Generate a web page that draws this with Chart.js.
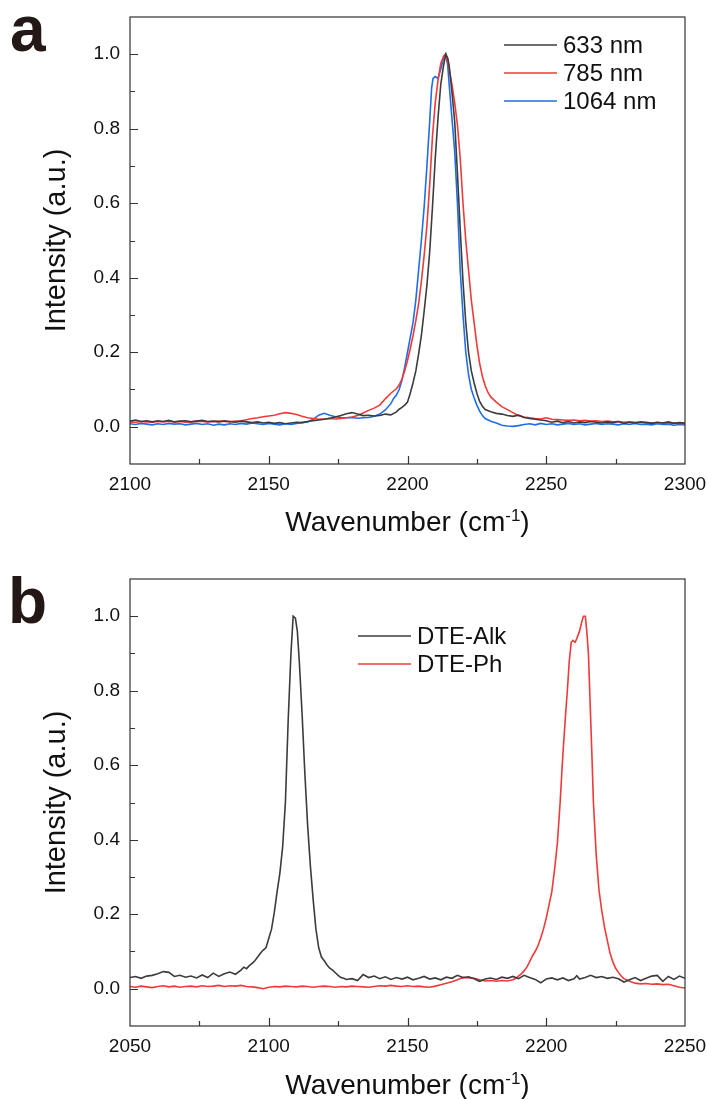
<!DOCTYPE html>
<html>
<head>
<meta charset="utf-8">
<script src="https://cdn.jsdelivr.net/npm/chart.js@4.4.1/dist/chart.umd.min.js"></script>
<style>
  body { margin: 0; background: #fff; width: 707px; height: 1099px; position: relative; overflow: hidden; }
  .panel { position: absolute; left: 0; }
  .letter { position: absolute; font: bold 64px "Liberation Sans", Arial, sans-serif; line-height: 64px; color: #231815; }
  .xtitle { position: absolute; left: 130px; width: 555px; text-align: center; font: 28px "Liberation Sans", Arial, sans-serif; line-height: 28px; color: #111; }
  .xtitle span { font-size: 17px; position: relative; top: -10px; }
</style>
</head>
<body>
<div class="panel" style="top:0"><canvas id="chartA" width="707" height="545"></canvas></div>
<div class="panel" style="top:562px"><canvas id="chartB" width="707" height="537"></canvas></div>
<div class="letter" style="left:10px; top:-3px">a</div>
<div class="letter" style="left:8px; top:569px">b</div>
<div class="xtitle" style="top:508px">Wavenumber (cm<span>-1</span>)</div>
<div class="xtitle" style="top:1071px">Wavenumber (cm<span>-1</span>)</div>
<script>
// ---- panel a: excitation wavelength ----
const labelsA = ["633 nm", "785 nm", "1064 nm"];

const a633x = [2100,2102,2104,2106,2108,2110,2112,2114,2116,2118,2120,2122,2124,2126,2128,2130,2132,2134,2136,2138,
  2140,2142,2144,2146,2148,2150,2152,2154,2156,2158,2160,2162,2164,2166,2168,2170,2172,2174,2176,2178,
  2180,2182,2184,2186,2188,2190,2192,2194,2196,2197,2198,2199,2200,2201,2202,2203,2204,2205,2206,2207,
  2208,2209,2210,2211,2212,2213,2213.8,2214.5,2215,2216,2217,2218,2219,2220,2221,2222,2223,2224,2225,2226,
  2227,2228,2230,2232,2234,2236,2238,2240,2242,2244,2246,2248,2250,2252,2254,2256,2258,2260,2262,2264,
  2266,2268,2270,2272,2274,2276,2278,2280,2282,2284,2286,2288,2290,2292,2294,2296,2298,2300];
const a633y = [.015,.018,.014,.016,.013,.016,.014,.017,.013,.015,.016,.013,.015,.017,.014,.015,.013,.016,.014,.012,
  .015,.013,.011,.013,.010,.012,.009,.011,.008,.010,.012,.011,.014,.016,.018,.020,.023,.026,.030,.035,
  .038,.034,.030,.031,.029,.030,.034,.032,.040,.047,.052,.058,.066,.090,.118,.150,.195,.245,.31,.38,
  .47,.59,.72,.83,.92,.97,1.0,.99,.97,.90,.82,.68,.53,.39,.28,.20,.15,.118,.09,.068,
  .055,.046,.040,.036,.034,.030,.028,.031,.025,.022,.020,.018,.016,.012,.015,.011,.014,.010,.013,.011,
  .014,.012,.010,.013,.011,.014,.009,.012,.010,.013,.011,.009,.012,.010,.013,.009,.011,.010];

const a785x = [2100,2102,2104,2106,2108,2110,2112,2114,2116,2118,2120,2122,2124,2126,2128,2130,2132,2134,2136,2138,
  2140,2142,2144,2146,2148,2150,2152,2154,2156,2158,2160,2162,2164,2166,2168,2170,2172,2174,2176,2178,
  2180,2182,2184,2186,2188,2190,2192,2194,2196,2197,2198,2199,2200,2201,2202,2203,2204,2205,2206,2207,
  2208,2209,2210,2211,2212,2213,2213.6,2214.5,2215,2216,2217,2218,2219,2220,2221,2222,2223,2224,2225,2226,
  2227,2228,2229,2230,2232,2234,2236,2238,2240,2242,2244,2246,2248,2250,2252,2254,2256,2258,2260,2262,
  2264,2266,2268,2270,2272,2274,2276,2278,2280,2282,2284,2286,2288,2290,2292,2294,2296,2298,2300];
const a785y = [.013,.012,.014,.013,.012,.014,.013,.015,.013,.014,.012,.013,.015,.014,.013,.014,.015,.014,.013,.015,
  .016,.019,.022,.024,.027,.029,.031,.035,.038,.036,.033,.028,.024,.022,.020,.021,.022,.021,.022,.024,
  .026,.030,.037,.044,.050,.058,.075,.090,.102,.112,.128,.150,.178,.21,.245,.285,.33,.39,.46,.54,
  .65,.78,.87,.93,.975,.995,1.0,.98,.96,.92,.87,.81,.72,.60,.50,.42,.34,.28,.22,.17,
  .135,.11,.092,.080,.066,.054,.046,.038,.030,.026,.024,.022,.021,.024,.020,.019,.018,.017,.018,.016,
  .017,.015,.016,.014,.015,.013,.014,.012,.013,.012,.011,.012,.010,.011,.010,.009,.010,.009,.008];

const a1064x = [2100,2102,2104,2106,2108,2110,2112,2114,2116,2118,2120,2122,2124,2126,2128,2130,2132,2134,2136,2138,
  2140,2142,2144,2146,2148,2150,2152,2154,2156,2158,2160,2162,2164,2166,2168,2170,2172,2174,2176,2178,
  2180,2182,2184,2186,2188,2190,2192,2194,2195,2196,2197,2198,2199,2200,2201,2202,2203,2204,2205,2206,
  2207,2208,2208.7,2209.2,2210,2211,2212,2213,2213.8,2214.5,2215,2216,2217,2218,2219,2220,2221,2222,2223,2224,
  2225,2226,2227,2228,2230,2232,2234,2236,2238,2240,2242,2244,2246,2248,2250,2252,2254,2256,2258,2260,
  2262,2264,2266,2268,2270,2272,2274,2276,2278,2280,2282,2284,2286,2288,2290,2292,2294,2296,2298,2300];
const a1064y = [.008,.006,.009,.007,.005,.008,.006,.009,.007,.008,.005,.007,.009,.006,.008,.004,.007,.005,.008,.006,
  .009,.007,.010,.008,.006,.009,.007,.005,.008,.006,.009,.011,.013,.020,.031,.036,.031,.027,.025,.024,
  .025,.023,.024,.025,.028,.034,.045,.062,.076,.085,.10,.125,.16,.20,.24,.28,.34,.42,.50,.59,
  .70,.82,.91,.935,.94,.935,.96,.99,1.0,.97,.92,.83,.74,.60,.42,.30,.20,.14,.10,.078,
  .058,.042,.030,.022,.015,.010,.004,.002,.001,.003,.006,.008,.005,.009,.006,.008,.005,.007,.009,.006,
  .008,.005,.007,.009,.006,.008,.007,.005,.008,.006,.009,.006,.007,.005,.008,.006,.007,.004,.006,.005];

// ---- panel b: DTE-Alk vs DTE-Ph ----
const labelsB = ["DTE-Alk", "DTE-Ph"];

const bAlkx = [2050,2052,2054,2056,2058,2060,2062,2064,2066,2068,2070,2072,2074,2076,2078,2080,2082,2084,2086,2088,
  2090,2091,2092,2093,2094,2095,2096,2097,2098,2099,2100,2101,2102,2103,2104,2105,2106,2107,2108,2108.8,
  2109.6,2110.3,2111,2112,2113,2114,2115,2116,2117,2118,2119,2120,2121,2122,2123,2124,2125,2126,2127,2128,
  2130,2132,2134,2136,2138,2140,2142,2144,2146,2148,2150,2152,2154,2156,2158,2160,2162,2164,2166,2168,
  2170,2172,2174,2176,2178,2180,2182,2184,2186,2188,2190,2192,2194,2196,2198,2200,2202,2204,2206,2208,
  2210,2211,2212,2214,2216,2218,2220,2222,2224,2226,2228,2230,2232,2234,2236,2238,2240,2242,2244,2246,
  2248,2250];
const bAlky = [.030,.033,.028,.034,.036,.040,.046,.044,.033,.036,.031,.034,.029,.037,.030,.042,.033,.040,.045,.039,
  .050,.058,.054,.062,.068,.075,.085,.095,.104,.110,.135,.160,.205,.26,.31,.38,.50,.72,.90,1.0,
  .995,.96,.88,.74,.58,.44,.33,.24,.16,.11,.085,.075,.064,.055,.050,.043,.036,.030,.028,.025,
  .027,.022,.038,.030,.034,.027,.032,.025,.030,.026,.031,.024,.028,.033,.026,.029,.024,.031,.028,.036,
  .030,.032,.027,.020,.026,.029,.025,.031,.028,.033,.027,.036,.030,.025,.016,.026,.029,.024,.029,.022,
  .027,.035,.026,.030,.036,.030,.033,.028,.031,.027,.018,.024,.030,.022,.028,.034,.036,.020,.033,.025,
  .034,.028];

const bPhx = [2050,2052,2054,2056,2058,2060,2062,2064,2066,2068,2070,2072,2074,2076,2078,2080,2082,2084,2086,2088,
  2090,2092,2094,2096,2098,2100,2102,2104,2106,2108,2110,2112,2114,2116,2118,2120,2122,2124,2126,2128,
  2130,2132,2134,2136,2138,2140,2142,2144,2146,2148,2150,2152,2154,2156,2158,2160,2162,2164,2166,2168,
  2170,2172,2174,2176,2178,2180,2182,2184,2186,2188,2189,2190,2191,2192,2193,2194,2195,2196,2197,2198,
  2199,2200,2201,2202,2203,2204,2205,2206,2207,2207.6,2208.3,2209,2209.6,2210.4,2211,2212,2212.8,2213.4,2214.1,2214.6,
  2215.2,2215.8,2216.4,2217,2218,2219,2220,2221,2222,2223,2224,2225,2226,2227,2228,2230,2232,2234,2236,2238,
  2240,2242,2244,2246,2248,2250];
const bPhy = [.006,.004,.007,.005,.003,.006,.008,.005,.007,.004,.006,.007,.005,.008,.006,.007,.009,.006,.008,.007,
  .009,.006,.005,.003,.000,.004,.006,.005,.007,.006,.005,.007,.006,.004,.006,.007,.006,.004,.006,.005,
  .007,.006,.005,.004,.006,.008,.007,.009,.007,.006,.008,.006,.007,.005,.004,.007,.011,.015,.019,.024,
  .030,.029,.028,.024,.021,.022,.020,.022,.021,.024,.028,.034,.040,.048,.058,.072,.088,.100,.115,.136,
  .160,.19,.225,.26,.32,.39,.50,.63,.74,.80,.88,.93,.935,.93,.94,.96,.985,1.0,1.0,.96,
  .90,.77,.64,.50,.36,.265,.21,.165,.13,.095,.072,.055,.044,.034,.027,.020,.015,.013,.014,.012,
  .013,.011,.012,.008,.004,.002];

const FONT = '"Liberation Sans", Arial, sans-serif';

const pts = (xs, ys) => xs.map((x, i) => ({ x: x, y: ys[i] }));

// frame + inward tick marks
const innerTicks = {
    id: "innerTicks",
    afterDatasetsDraw(chart) {
        const { ctx, chartArea: a, scales } = chart;
        ctx.save();
        ctx.strokeStyle = "#333";
        ctx.lineWidth = 1.2;
        ctx.strokeRect(a.left, a.top, a.right - a.left, a.bottom - a.top);
        ctx.beginPath();
        scales.x.ticks.forEach(t => {
            const px = Math.round(scales.x.getPixelForValue(t.value)) + 0.5;
            if (px <= a.left + 1 || px >= a.right - 1) return;
            const len = t.label !== "" ? 8 : 5;
            ctx.moveTo(px, a.bottom);
            ctx.lineTo(px, a.bottom - len);
        });
        scales.y.ticks.forEach(t => {
            const py = Math.round(scales.y.getPixelForValue(t.value)) + 0.5;
            if (py <= a.top + 1 || py >= a.bottom - 1) return;
            const len = t.label !== "" ? 8 : 5;
            ctx.moveTo(a.left, py);
            ctx.lineTo(a.left + len, py);
        });
        ctx.stroke();
        ctx.restore();
    }
};

// legend drawn inside the plot
const lineLegend = {
    id: "lineLegend",
    afterDraw(chart, args, opts) {
        const ctx = chart.ctx;
        ctx.save();
        ctx.font = "24px " + FONT;
        ctx.textBaseline = "middle";
        chart.data.datasets.forEach((ds, i) => {
            const y = opts.y + i * opts.gap;
            ctx.strokeStyle = ds.borderColor;
            ctx.lineWidth = 1.6;
            ctx.beginPath();
            ctx.moveTo(opts.x, y);
            ctx.lineTo(opts.x + opts.len, y);
            ctx.stroke();
            ctx.fillStyle = "#111";
            ctx.fillText(ds.label, opts.x + opts.len + 6, y + 1);
        });
        ctx.restore();
    }
};

function makeChart(id, datasets, xmin, xmax, xh, legend) {
    const ctx = document.getElementById(id).getContext("2d");
    return new Chart(ctx, {
        type: "line",
        data: { datasets: datasets },
        options: {
            responsive: false,
            animation: false,
            devicePixelRatio: 1,
            layout: { padding: { top: 17, right: 22, left: 0, bottom: 0 } },
            elements: { point: { radius: 0 }, line: { tension: 0, borderWidth: 1.6 } },
            plugins: { legend: { display: false }, tooltip: { enabled: false }, lineLegend: legend },
            scales: {
                x: {
                    type: "linear",
                    min: xmin,
                    max: xmax,
                    grid: { display: false, drawTicks: false },
                    border: { display: false },
                    ticks: {
                        stepSize: 25,
                        autoSkip: false,
                        maxRotation: 0,
                        padding: 9,
                        color: "#111",
                        font: { size: 19, family: FONT },
                        callback: v => (v % 50 === 0 ? String(v) : "")
                    },
                    afterFit: s => { s.height = xh; s.paddingLeft = 0; s.paddingRight = 0; }
                },
                y: {
                    min: -0.1,
                    max: 1.1,
                    grid: { display: false, drawTicks: false },
                    border: { display: false },
                    ticks: {
                        stepSize: 0.1,
                        autoSkip: false,
                        padding: 10,
                        color: "#111",
                        font: { size: 19, family: FONT },
                        callback: v => {
                            const k = Math.round(v * 10);
                            return k >= 0 && k <= 10 && k % 2 === 0 ? (k / 10).toFixed(1) : "";
                        }
                    },
                    title: {
                        display: true,
                        text: "Intensity (a.u.)",
                        color: "#111",
                        font: { size: 29, family: FONT },
                        padding: { top: 40, bottom: 0 }
                    },
                    afterFit: s => { s.width = 130; s.paddingTop = 0; s.paddingBottom = 0; }
                }
            }
        },
        plugins: [innerTicks, lineLegend]
    });
}

makeChart("chartA", [
    { label: labelsA[0], data: pts(a633x, a633y), borderColor: "#3c3c3c" },
    { label: labelsA[1], data: pts(a785x, a785y), borderColor: "#f03a3a" },
    { label: labelsA[2], data: pts(a1064x, a1064y), borderColor: "#1e6ee6" }
], 2100, 2300, 81, { x: 504, y: 45, gap: 28, len: 53 });

makeChart("chartB", [
    { label: labelsB[0], data: pts(bAlkx, bAlky), borderColor: "#3c3c3c" },
    { label: labelsB[1], data: pts(bPhx, bPhy), borderColor: "#f03a3a" }
], 2050, 2250, 73, { x: 358, y: 74, gap: 28, len: 53 });
</script>
</body>
</html>
